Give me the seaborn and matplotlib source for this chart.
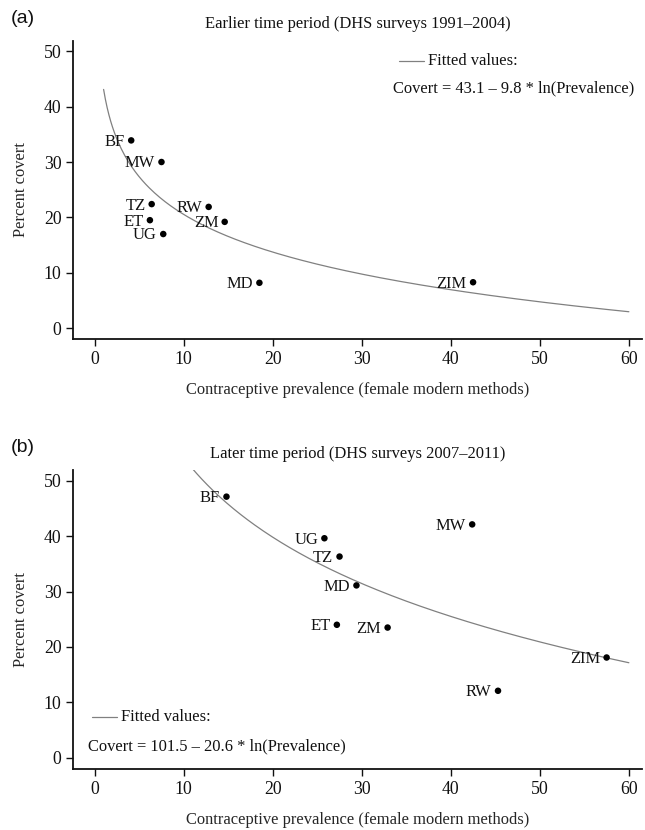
import numpy as np
import pandas as pd
import seaborn as sns
import matplotlib.pyplot as plt

# panel (a): earlier period, DHS 1991-2004
early_country = ['BF', 'MW', 'TZ', 'RW', 'ET', 'ZM', 'UG', 'MD', 'ZIM']
early_prev = [4.1, 7.5, 6.4, 12.8, 6.2, 14.6, 7.7, 18.5, 42.5]
early_covert = [33.9, 30.0, 22.4, 21.9, 19.5, 19.2, 17.0, 8.2, 8.3]
early_fit = (43.1, -9.8)  # intercept, slope on ln(prevalence)

# panel (b): later period, DHS 2007-2011
late_country = ['BF', 'MW', 'UG', 'TZ', 'MD', 'ET', 'ZM', 'ZIM', 'RW']
late_prev = [14.8, 42.4, 25.8, 27.5, 29.4, 27.2, 32.9, 57.5, 45.3]
late_covert = [47.1, 42.1, 39.6, 36.3, 31.1, 24.0, 23.5, 18.1, 12.1]
late_fit = (101.5, -20.6)

xticks = [0, 10, 20, 30, 40, 50, 60]
yticks = [0, 10, 20, 30, 40, 50]

sns.set_style("ticks")
plt.rcParams['font.family'] = ['Liberation Serif', 'DejaVu Serif']
plt.rcParams['text.color'] = '#111111'
plt.rcParams['xtick.color'] = '#111111'
plt.rcParams['ytick.color'] = '#111111'

fs = 11.9

panels = [
    ('(a)', 0.978, 'Earlier time period (DHS surveys 1991\u20132004)',
     early_country, early_prev, early_covert, early_fit,
     [0.1137, 0.5912, 0.882, 0.3598], 'top'),
    ('(b)', 0.4614, 'Later time period (DHS surveys 2007\u20132011)',
     late_country, late_prev, late_covert, late_fit,
     [0.1137, 0.0735, 0.882, 0.3602], 'bottom'),
]

fig = plt.figure(figsize=(6.45, 8.3), dpi=100)

for tag, tag_y, title, country, prev, covert, fit, pos, legpos in panels:
    ax = fig.add_axes(pos)
    df = pd.DataFrame({'prev': prev, 'covert': covert, 'country': country})

    xs = np.linspace(1, 60, 300)
    fit_df = pd.DataFrame({'prev': xs, 'covert': fit[0] + fit[1] * np.log(xs)})
    sns.lineplot(data=fit_df, x='prev', y='covert', color='#808080',
                 linewidth=0.9, ax=ax)
    sns.scatterplot(data=df, x='prev', y='covert', color='black', s=22,
                    edgecolor='none', ax=ax, zorder=3)
    for _, r in df.iterrows():
        ax.annotate(r['country'], (r['prev'], r['covert']), xytext=(-4.5, -1),
                    textcoords='offset points', ha='right', va='center',
                    fontsize=fs)

    ax.set_xlim(-2.4, 61.5)
    ax.set_ylim(-2.0, 51.9)
    ax.set_xticks(xticks)
    ax.set_yticks(yticks)
    ax.tick_params(labelsize=12.8, length=5, width=1.0, direction='out')
    sns.despine(ax=ax)
    for s in ['left', 'bottom']:
        ax.spines[s].set_linewidth(1.3)
        ax.spines[s].set_color('#111111')

    ax.set_xlabel('Contraceptive prevalence (female modern methods)',
                  fontsize=fs, labelpad=10)
    ax.set_ylabel('Percent covert', fontsize=fs, labelpad=11)
    ax.set_title(title, fontsize=fs, pad=9)
    fig.text(0.017, tag_y, tag, fontsize=14,
             family=['Liberation Sans', 'DejaVu Sans'], va='center', ha='left')

    # legend drawn like the original (line key + equation line)
    eq = 'Covert = %.1f \u2013 %.1f * ln(Prevalence)' % (fit[0], -fit[1])
    if legpos == 'top':
        lx, ly, ex, ey = 0.573, 0.932, 0.5626, 0.8416
    else:
        lx, ly, ex, ey = 0.033, 0.173, 0.026, 0.075
    ax.plot([lx, lx + 0.043], [ly, ly], color='#808080', linewidth=0.9,
            transform=ax.transAxes)
    ax.text(lx + 0.051, ly, 'Fitted values:', transform=ax.transAxes,
            fontsize=fs, va='center', ha='left')
    ax.text(ex, ey, eq, transform=ax.transAxes, fontsize=fs,
            va='center', ha='left')

plt.savefig('out.png', dpi=100)
